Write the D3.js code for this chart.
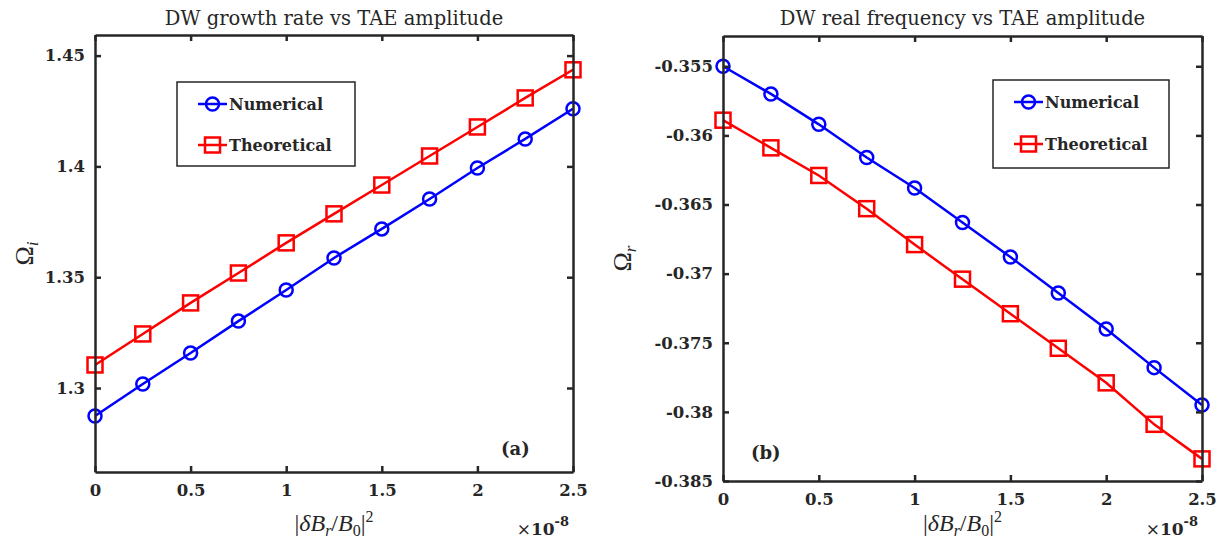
<!DOCTYPE html>
<html lang="en">
<head>
<meta charset="utf-8">
<title>DW vs TAE amplitude</title>
<script src="https://cdn.jsdelivr.net/npm/d3@7"></script>
<style>
  body { margin: 0; background: #fff; }
  text { font-family: "DejaVu Serif", serif; fill: #262626; }
</style>
</head>
<body>
<div id="chart"></div>
<script>
// data (x in units of 1e-8)
const amp = [0, 0.25, 0.5, 0.75, 1.0, 1.25, 1.5, 1.75, 2.0, 2.25, 2.5];
const growthNum = [1.2874, 1.3018, 1.3158, 1.3302, 1.3442, 1.3587, 1.3718, 1.3853, 1.3993, 1.4124, 1.4260];
const growthThe = [1.3104, 1.3244, 1.3384, 1.3519, 1.3655, 1.3786, 1.3916, 1.4047, 1.4178, 1.4309, 1.4436];
const freqNum = [-0.3550, -0.3570, -0.3592, -0.3616, -0.3638, -0.3663, -0.3688, -0.3714, -0.3740, -0.3768, -0.3795];
const freqThe = [-0.3589, -0.3609, -0.3629, -0.3653, -0.3679, -0.3704, -0.3729, -0.3754, -0.3779, -0.3809, -0.3834];
const xTicks = [0, 0.5, 1, 1.5, 2, 2.5];
const growthTicks = [1.3, 1.35, 1.4, 1.45];
const freqTicks = [-0.385, -0.38, -0.375, -0.37, -0.365, -0.36, -0.355];

const W = 1228, H = 541;
const svg = d3.select("#chart").append("svg")
  .attr("width", W).attr("height", H);

const blue = "#0000ff", red = "#ff0000", axisCol = "#262626";
const fmt = d => String(+d.toFixed(3)); // plain hyphen minus like the original

function panel(opt) {
  const x = d3.scaleLinear().domain([0, 2.5]).range([opt.left, opt.right]);
  const y = d3.scaleLinear().domain(opt.ydom).range([opt.bottom, opt.top]);
  const g = svg.append("g");

  // series
  const line = d3.line().x((d, i) => x(amp[i])).y(d => y(d));
  g.append("path").datum(opt.num).attr("d", line)
    .attr("fill", "none").attr("stroke", blue).attr("stroke-width", 2.5);
  g.append("path").datum(opt.the).attr("d", line)
    .attr("fill", "none").attr("stroke", red).attr("stroke-width", 2.5);
  g.selectAll(".c").data(opt.num).enter().append("circle")
    .attr("cx", (d, i) => x(amp[i])).attr("cy", d => y(d)).attr("r", 6.5)
    .attr("fill", "none").attr("stroke", blue).attr("stroke-width", 2.5);
  g.selectAll(".s").data(opt.the).enter().append("rect")
    .attr("x", (d, i) => x(amp[i]) - 7.5).attr("y", d => y(d) - 7.5)
    .attr("width", 15).attr("height", 15)
    .attr("fill", "none").attr("stroke", red).attr("stroke-width", 2.5);

  // axes (box with inward ticks on all sides)
  const tl = 6;
  const bottom = g.append("g").attr("transform", `translate(0,${opt.bottom})`)
    .call(d3.axisBottom(x).tickValues(xTicks).tickSizeInner(-tl).tickSizeOuter(0).tickPadding(12)
      .tickFormat(fmt));
  const top = g.append("g").attr("transform", `translate(0,${opt.top})`)
    .call(d3.axisTop(x).tickValues(xTicks).tickSizeInner(-tl).tickSizeOuter(0).tickFormat(""));
  const left = g.append("g").attr("transform", `translate(${opt.left},0)`)
    .call(d3.axisLeft(y).tickValues(opt.yticks).tickSizeInner(-tl).tickSizeOuter(0).tickPadding(10)
      .tickFormat(fmt));
  const right = g.append("g").attr("transform", `translate(${opt.right},0)`)
    .call(d3.axisRight(y).tickValues(opt.yticks).tickSizeInner(-tl).tickSizeOuter(0).tickFormat(""));
  [bottom, top, left, right].forEach(a => {
    a.select(".domain").attr("stroke", axisCol).attr("stroke-width", 2.5);
    a.selectAll(".tick line").attr("stroke", axisCol).attr("stroke-width", 2.5);
    a.selectAll(".tick text").attr("font-size", 16.5).attr("font-weight", "bold")
      .attr("fill", axisCol).style("font-family", "'DejaVu Serif', serif");
  });

  const cx = (opt.left + opt.right) / 2;
  // title
  g.append("text").attr("x", cx).attr("y", 25).attr("text-anchor", "middle")
    .attr("font-size", 19.5).attr("fill", "#000").text(opt.title);

  // x label
  const xl = g.append("text").attr("x", cx).attr("y", 531).attr("text-anchor", "middle")
    .attr("font-size", 24).style("font-family", "'Liberation Serif', serif");
  xl.append("tspan").text("|");
  xl.append("tspan").attr("font-style", "italic").text("δB");
  xl.append("tspan").attr("font-style", "italic").attr("font-size", 16).attr("dy", 5).text("r");
  xl.append("tspan").attr("dy", -5).text("/");
  xl.append("tspan").attr("font-style", "italic").text("B");
  xl.append("tspan").attr("font-size", 16).attr("dy", 5).text("0");
  xl.append("tspan").attr("dy", -5).text("|");
  xl.append("tspan").attr("font-size", 16).attr("dy", -9).text("2");

  // exponent
  const ex = g.append("text").attr("x", opt.right - 4).attr("y", 535).attr("text-anchor", "end")
    .attr("font-size", 17).attr("font-weight", "bold");
  ex.append("tspan").attr("font-weight", "normal").text("×");
  ex.append("tspan").text("10");
  ex.append("tspan").attr("font-size", 13).attr("dy", -9).text("-8");

  // y label
  const yl = g.append("text")
    .attr("transform", `translate(${opt.ylabX},${(opt.top + opt.bottom) / 2}) rotate(-90)`)
    .attr("text-anchor", "middle").attr("font-size", 26)
    .style("font-family", "'Liberation Serif', serif");
  yl.append("tspan").text("Ω");
  yl.append("tspan").attr("font-style", "italic").attr("font-size", 17).attr("dy", 5).text(opt.ysub);

  // panel tag
  g.append("text").attr("x", opt.tagX).attr("y", opt.tagY).attr("font-size", 18)
    .attr("font-weight", "bold").attr("fill", "#000").text(opt.tag);

  // legend
  const lg = g.append("g");
  lg.append("rect").attr("x", opt.leg[0]).attr("y", opt.leg[1]).attr("width", opt.leg[2]).attr("height", opt.leg[3])
    .attr("fill", "#fff").attr("stroke", axisCol).attr("stroke-width", 1.5);
  const items = [
    { name: "Numerical", col: blue, mark: "circle" },
    { name: "Theoretical", col: red, mark: "square" }
  ];
  items.forEach((it, i) => {
    const ly = opt.leg[1] + 22 + i * opt.legGap;
    const lx = opt.leg[0] + 21;
    lg.append("line").attr("x1", lx).attr("x2", lx + 29).attr("y1", ly).attr("y2", ly)
      .attr("stroke", it.col).attr("stroke-width", 2.5);
    if (it.mark === "circle") {
      lg.append("circle").attr("cx", lx + 14.5).attr("cy", ly).attr("r", 6.5)
        .attr("fill", "none").attr("stroke", it.col).attr("stroke-width", 2.5);
    } else {
      lg.append("rect").attr("x", lx + 7).attr("y", ly - 7.5).attr("width", 15).attr("height", 15)
        .attr("fill", "none").attr("stroke", it.col).attr("stroke-width", 2.5);
    }
    lg.append("text").attr("x", lx + 31).attr("y", ly + 6).attr("font-size", 16)
      .attr("font-weight", "bold").attr("fill", "#000").text(it.name);
  });
}

panel({
  left: 95, right: 573, top: 35, bottom: 472,
  ydom: [1.2621, 1.4593], yticks: growthTicks,
  num: growthNum, the: growthThe,
  title: "DW growth rate vs TAE amplitude", ysub: "i", ylabX: 33,
  tag: "(a)", tagX: 501, tagY: 455,
  leg: [177, 82, 178, 84], legGap: 41
});

panel({
  left: 723, right: 1202, top: 36, bottom: 481,
  ydom: [-0.385, -0.35281], yticks: freqTicks,
  num: freqNum, the: freqThe,
  title: "DW real frequency vs TAE amplitude", ysub: "r", ylabX: 631,
  tag: "(b)", tagX: 751, tagY: 459,
  leg: [993, 80, 176, 88], legGap: 42
});
</script>
</body>
</html>
